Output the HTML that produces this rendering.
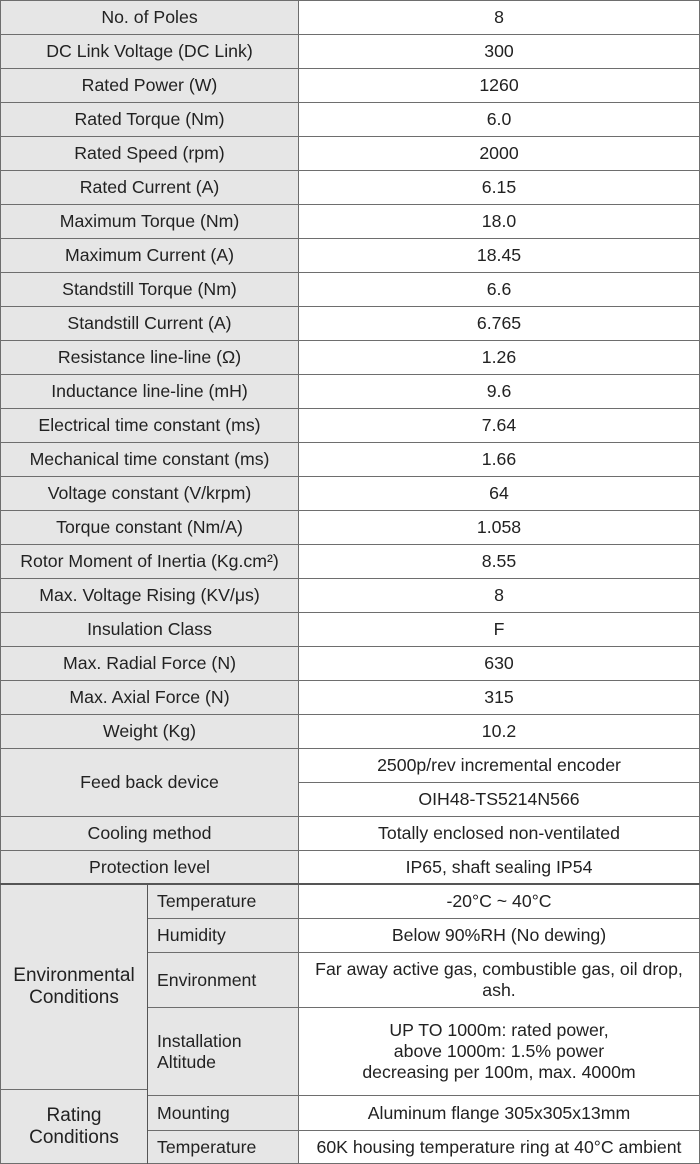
<!DOCTYPE html>
<html><head><meta charset="utf-8"><style>
body{margin:0;width:700px;height:1164px;background:#fff;position:relative;overflow:hidden;font-family:"Liberation Sans",Arial,sans-serif;font-size:17.7px;color:#222}
.c{position:absolute;box-sizing:border-box;border:1px solid #6e6e6e;display:flex;align-items:center;justify-content:center;text-align:center;line-height:21px}
.g{background:#e6e6e6}
.l{justify-content:flex-start;text-align:left;padding-left:9px}
.big{font-size:19px;line-height:22px}
</style></head><body>
<div class="c g" style="left:0;top:0;width:299px;height:35px">No. of Poles</div><div class="c" style="left:298px;top:0;width:402px;height:35px">8</div>
<div class="c g" style="left:0;top:34px;width:299px;height:35px">DC Link Voltage (DC Link)</div><div class="c" style="left:298px;top:34px;width:402px;height:35px">300</div>
<div class="c g" style="left:0;top:68px;width:299px;height:35px">Rated Power (W)</div><div class="c" style="left:298px;top:68px;width:402px;height:35px">1260</div>
<div class="c g" style="left:0;top:102px;width:299px;height:35px">Rated Torque (Nm)</div><div class="c" style="left:298px;top:102px;width:402px;height:35px">6.0</div>
<div class="c g" style="left:0;top:136px;width:299px;height:35px">Rated Speed (rpm)</div><div class="c" style="left:298px;top:136px;width:402px;height:35px">2000</div>
<div class="c g" style="left:0;top:170px;width:299px;height:35px">Rated Current (A)</div><div class="c" style="left:298px;top:170px;width:402px;height:35px">6.15</div>
<div class="c g" style="left:0;top:204px;width:299px;height:35px">Maximum Torque (Nm)</div><div class="c" style="left:298px;top:204px;width:402px;height:35px">18.0</div>
<div class="c g" style="left:0;top:238px;width:299px;height:35px">Maximum Current (A)</div><div class="c" style="left:298px;top:238px;width:402px;height:35px">18.45</div>
<div class="c g" style="left:0;top:272px;width:299px;height:35px">Standstill Torque (Nm)</div><div class="c" style="left:298px;top:272px;width:402px;height:35px">6.6</div>
<div class="c g" style="left:0;top:306px;width:299px;height:35px">Standstill Current (A)</div><div class="c" style="left:298px;top:306px;width:402px;height:35px">6.765</div>
<div class="c g" style="left:0;top:340px;width:299px;height:35px">Resistance line-line (Ω)</div><div class="c" style="left:298px;top:340px;width:402px;height:35px">1.26</div>
<div class="c g" style="left:0;top:374px;width:299px;height:35px">Inductance line-line (mH)</div><div class="c" style="left:298px;top:374px;width:402px;height:35px">9.6</div>
<div class="c g" style="left:0;top:408px;width:299px;height:35px">Electrical time constant (ms)</div><div class="c" style="left:298px;top:408px;width:402px;height:35px">7.64</div>
<div class="c g" style="left:0;top:442px;width:299px;height:35px">Mechanical time constant (ms)</div><div class="c" style="left:298px;top:442px;width:402px;height:35px">1.66</div>
<div class="c g" style="left:0;top:476px;width:299px;height:35px">Voltage constant (V/krpm)</div><div class="c" style="left:298px;top:476px;width:402px;height:35px">64</div>
<div class="c g" style="left:0;top:510px;width:299px;height:35px">Torque constant (Nm/A)</div><div class="c" style="left:298px;top:510px;width:402px;height:35px">1.058</div>
<div class="c g" style="left:0;top:544px;width:299px;height:35px">Rotor Moment of Inertia (Kg.cm²)</div><div class="c" style="left:298px;top:544px;width:402px;height:35px">8.55</div>
<div class="c g" style="left:0;top:578px;width:299px;height:35px">Max. Voltage Rising (KV/μs)</div><div class="c" style="left:298px;top:578px;width:402px;height:35px">8</div>
<div class="c g" style="left:0;top:612px;width:299px;height:35px">Insulation Class</div><div class="c" style="left:298px;top:612px;width:402px;height:35px">F</div>
<div class="c g" style="left:0;top:646px;width:299px;height:35px">Max. Radial Force (N)</div><div class="c" style="left:298px;top:646px;width:402px;height:35px">630</div>
<div class="c g" style="left:0;top:680px;width:299px;height:35px">Max. Axial Force (N)</div><div class="c" style="left:298px;top:680px;width:402px;height:35px">315</div>
<div class="c g" style="left:0;top:714px;width:299px;height:35px">Weight (Kg)</div><div class="c" style="left:298px;top:714px;width:402px;height:35px">10.2</div>
<div class="c g" style="left:0;top:748px;width:299px;height:69px">Feed back device</div>
<div class="c" style="left:298px;top:748px;width:402px;height:35px">2500p/rev incremental encoder</div>
<div class="c" style="left:298px;top:782px;width:402px;height:35px">OIH48-TS5214N566</div>
<div class="c g" style="left:0;top:816px;width:299px;height:35px">Cooling method</div><div class="c" style="left:298px;top:816px;width:402px;height:35px">Totally enclosed non-ventilated</div>
<div class="c g" style="left:0;top:850px;width:299px;height:35px">Protection level</div><div class="c" style="left:298px;top:850px;width:402px;height:35px">IP65, shaft sealing IP54</div>
<div class="c g big" style="left:0;top:884px;width:148px;height:206px">Environmental<br>Conditions</div>
<div class="c g big" style="left:0;top:1089px;width:148px;height:75px">Rating<br>Conditions</div>
<div class="c g l" style="left:147px;top:884px;width:152px;height:35px">Temperature</div><div class="c" style="left:298px;top:884px;width:402px;height:35px">-20°C ~ 40°C</div>
<div class="c g l" style="left:147px;top:918px;width:152px;height:35px">Humidity</div><div class="c" style="left:298px;top:918px;width:402px;height:35px">Below 90%RH (No dewing)</div>
<div class="c g l" style="left:147px;top:952px;width:152px;height:56px">Environment</div><div class="c" style="left:298px;top:952px;width:402px;height:56px">Far away active gas, combustible gas, oil drop,<br>ash.</div>
<div class="c g l" style="left:147px;top:1007px;width:152px;height:89px">Installation<br>Altitude</div><div class="c" style="left:298px;top:1007px;width:402px;height:89px">UP TO 1000m: rated power,<br>above 1000m: 1.5% power<br>decreasing per 100m, max. 4000m</div>
<div class="c g l" style="left:147px;top:1095px;width:152px;height:36px">Mounting</div><div class="c" style="left:298px;top:1095px;width:402px;height:36px">Aluminum flange 305x305x13mm</div>
<div class="c g l" style="left:147px;top:1130px;width:152px;height:34px">Temperature</div><div class="c" style="left:298px;top:1130px;width:402px;height:34px">60K housing temperature ring at 40°C ambient</div>
<div style="position:absolute;left:0;top:883px;width:700px;height:2px;background:#555"></div>
<div style="position:absolute;left:147px;top:884px;width:1px;height:280px;background:#555"></div>
</body></html>
